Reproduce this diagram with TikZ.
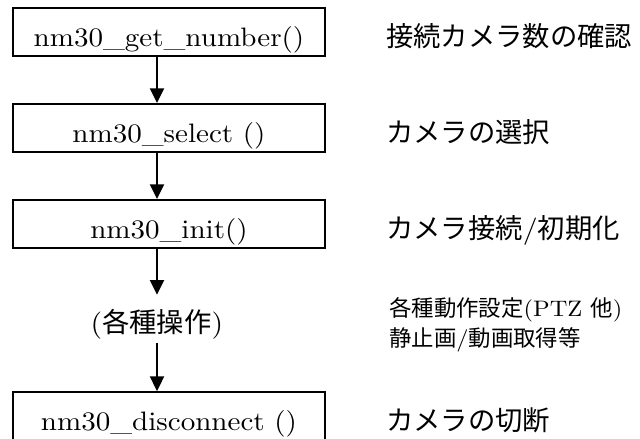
\documentclass[tikz,border=0pt]{standalone}
\usepackage{fontspec}
\setmainfont{lmroman10-regular.otf}[FakeStretch=1.09]
\newfontfamily\jp{Noto Sans CJK JP}
\usetikzlibrary{arrows.meta}
\tikzset{
  fnbox/.style={draw, line width=1.4pt, minimum width=234pt, inner sep=0pt, text height=28.5pt, text depth=7.5pt, font=\fontsize{20}{24}\selectfont},
  flowarrow/.style={line width=1.5pt, -{Triangle[width=10.5pt,length=11pt]}},
  desc/.style={anchor=base west, inner sep=0pt, font=\fontsize{20.5}{24}\selectfont},
  smalldesc/.style={anchor=base west, inner sep=0pt, font=\fontsize{16.8}{20}\selectfont},
}
\begin{document}
\begin{tikzpicture}[x=0.75pt,y=-0.75pt]
\useasboundingbox (0,0) rectangle (640,439);
\node[fnbox] (b1) at (169,32) {nm30\_get\_number()};
\node[fnbox] (b2) at (169,128) {nm30\_select ()};
\node[fnbox] (b3) at (169,224) {nm30\_init()};
\node[inner sep=0pt, text height=27.75pt, text depth=8.25pt, font=\fontsize{20.5}{24}\selectfont] (ops) at (157,319) {({\jp 各種操作})};
\node[fnbox, text depth=8.5pt] (b4) at (169,416.7) {nm30\_disconnect ()};
\coordinate (ax) at (157,0);
\draw[flowarrow] (b1.south -| ax) -- (b2.north -| ax);
\draw[flowarrow] (b2.south -| ax) -- (b3.north -| ax);
\draw[flowarrow] (b3.south -| ax) -- (ops.north -| ax);
\draw[flowarrow] (ops.south -| ax) -- (b4.north -| ax);
\node[desc] (d1) at (386,46) {\jp 接続カメラ数の確認};
\node[desc] (d2) at (386,142) {\jp カメラの選択};
\node[desc] (d3) at (386,238) {{\jp カメラ接続}/{\jp 初期化}};
\node[smalldesc] (d4a) at (389,316) {{\jp 各種動作設定}(PTZ {\jp 他})};
\node[smalldesc] (d4b) at (389,346) {{\jp 静止画}/{\jp 動画取得等}};
\node[desc] (d5) at (386,430) {\jp カメラの切断};
\end{tikzpicture}
\end{document}
